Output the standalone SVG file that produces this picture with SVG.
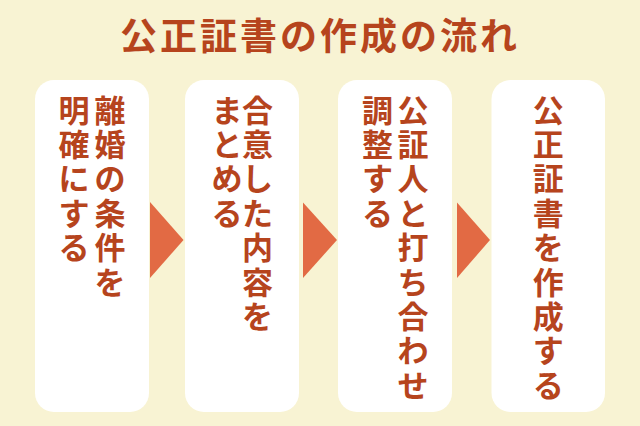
<svg xmlns="http://www.w3.org/2000/svg" width="640" height="426" viewBox="0 0 640 426">
<style>
.bg{fill:#f8f3d3}
.box{fill:#ffffff}
.arrow{fill:#e26a44}
.title{font-family:"Noto Sans CJK JP","Noto Sans CJK SC",sans-serif;font-weight:700;font-size:37px;fill:#b6441d;letter-spacing:3px}
.lbl{font-family:"Noto Sans CJK JP","Noto Sans CJK SC",sans-serif;font-weight:700;font-size:31px;fill:#b6441d;text-anchor:middle}
</style>
<rect class="bg" x="0" y="0" width="640" height="426"/>
<text class="title" x="120" y="50">公正証書の作成の流れ</text>
<g id="connectors">
<polygon class="arrow" points="150,202 183.5,240 150,278"/>
<polygon class="arrow" points="303,202.5 337,240 303,278"/>
<polygon class="arrow" points="457,202.5 490,240 457,278"/>
</g>
<g id="node1">
<rect class="box" x="35" y="80" width="114" height="332" rx="19"/>
<text class="lbl" x="110 110 110 110 110 110" y="121.5 155.9 190.3 224.7 259.1 293.5">離婚の条件を</text>
<text class="lbl" x="74 74 74 74 74" y="121.5 155.9 190.3 224.7 259.1">明確にする</text>
</g>
<g id="node2">
<rect class="box" x="185" y="80" width="114" height="332" rx="19"/>
<text class="lbl" x="257.5 257.5 257.5 257.5 257.5 257.5 257.5" y="121.5 155.9 190.3 224.7 259.1 293.5 327.9">合意した内容を</text>
<text class="lbl" x="227 227 227 227" y="121.5 155.9 190.3 224.7">まとめる</text>
</g>
<g id="node3">
<rect class="box" x="338" y="80" width="114" height="332" rx="19"/>
<text class="lbl" x="413 413 413 413 413 413 413 413 413" y="121.5 155.9 190.3 224.7 259.1 293.5 327.9 362.3 396.7">公証人と打ち合わせ</text>
<text class="lbl" x="377.5 377.5 377.5 377.5" y="121.5 155.9 190.3 224.7">調整する</text>
</g>
<g id="node4">
<rect class="box" x="491.5" y="80" width="113.5" height="332" rx="19"/>
<text class="lbl" x="548.3 548.3 548.3 548.3 548.3 548.3 548.3 548.3 548.3" y="121.5 155.9 190.3 224.7 259.1 293.5 327.9 362.3 396.7">公正証書を作成する</text>
</g>
</svg>
